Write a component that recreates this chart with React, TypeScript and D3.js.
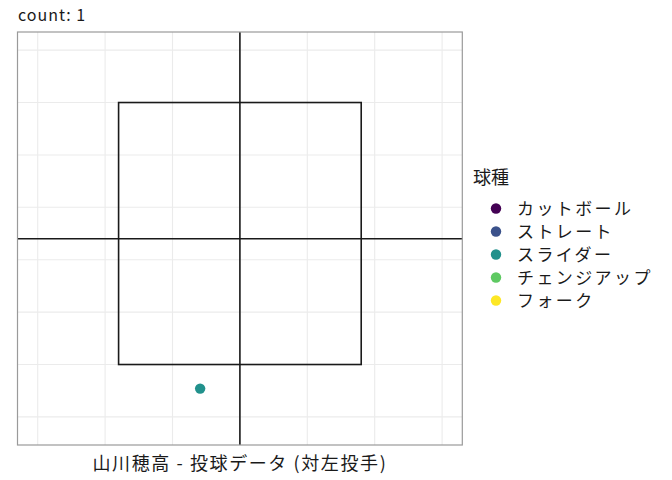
import * as d3 from 'd3';

// pitch categories (legend order)
const pitchTypes = ['カットボール', 'ストレート', 'スライダー', 'チェンジアップ', 'フォーク'];

// pitches thrown
const pitchX = [-0.59];
const pitchY = [1.27];
const pitchKind = ['スライダー'];

// strike zone + crosshair
const zoneX = [-1.8, 1.8];
const zoneY = [1.5, 4.0];
const crossX = 0;
const crossY = 2.7;

// grid lines
const xGrid = [-3, -2, -1, 0, 1, 2, 3];
const yGrid = [1, 1.5, 2, 2.5, 3, 3.5, 4, 4.5];

const W = 672;
const H = 480;
const font = '"Noto Sans CJK JP", "Noto Sans", sans-serif';

export default function App() {
  const left = 17.5;
  const right = 462.3;
  const top = 32;
  const bottom = 445;

  const x = d3.scaleLinear().domain([-3.3, 3.3]).range([left, right]);
  const y = d3.scaleLinear().domain([0.732, 4.673]).range([bottom, top]);
  const color = d3
    .scaleOrdinal<string, string>()
    .domain(pitchTypes)
    .range(pitchTypes.map((_, i) => d3.interpolateViridis(i / (pitchTypes.length - 1))));

  const legendY = d3.scaleBand().domain(pitchTypes).range([197, 312]);

  return (
    <svg
      width={W}
      height={H}
      viewBox={`0 0 ${W} ${H}`}
      style={{ position: 'absolute', left: 0, top: 0, background: '#fff' }}
      fontFamily={font}
    >
      <rect width={W} height={H} fill="#fff" />
      <text x={18} y={21} fontSize={16} letterSpacing={1} fill="#1a1a1a">count: 1</text>

      {/* grid */}
      <g stroke="#ebebeb" strokeWidth={1.1}>
        {xGrid.map((d) => (
          <line key={'gx' + d} x1={x(d)} x2={x(d)} y1={top} y2={bottom} />
        ))}
        {yGrid.map((d) => (
          <line key={'gy' + d} y1={y(d)} y2={y(d)} x1={left} x2={right} />
        ))}
      </g>

      {/* strike zone */}
      <rect
        x={x(zoneX[0])}
        y={y(zoneY[1])}
        width={x(zoneX[1]) - x(zoneX[0])}
        height={y(zoneY[0]) - y(zoneY[1])}
        fill="none"
        stroke="#1a1a1a"
        strokeWidth={1.6}
      />
      {/* crosshair */}
      <line x1={x(crossX)} x2={x(crossX)} y1={top} y2={bottom} stroke="#1a1a1a" strokeWidth={1.6} />
      <line y1={y(crossY)} y2={y(crossY)} x1={left} x2={right} stroke="#1a1a1a" strokeWidth={1.6} />

      {/* pitches */}
      {pitchX.map((d, i) => (
        <circle key={i} cx={x(d)} cy={y(pitchY[i])} r={5.2} fill={color(pitchKind[i])} />
      ))}

      {/* panel border */}
      <rect x={left} y={top} width={right - left} height={bottom - top} fill="none" stroke="#9a9a9a" strokeWidth={1.2} />

      {/* x title */}
      <text x={(left + right) / 2} y={470} fontSize={18} letterSpacing={1.6} textAnchor="middle" fill="#1a1a1a">
        山川穂高 - 投球データ (対左投手)
      </text>

      {/* legend */}
      <text x={473} y={184} fontSize={18} fill="#1a1a1a">球種</text>
      {pitchTypes.map((p) => {
        const cy = (legendY(p) as number) + legendY.bandwidth() / 2;
        return (
          <g key={p}>
            <circle cx={496} cy={cy} r={5.2} fill={color(p)} />
            <text x={517} y={cy} dy="0.36em" fontSize={17} letterSpacing={2.4} fill="#1a1a1a">{p}</text>
          </g>
        );
      })}
    </svg>
  );
}
